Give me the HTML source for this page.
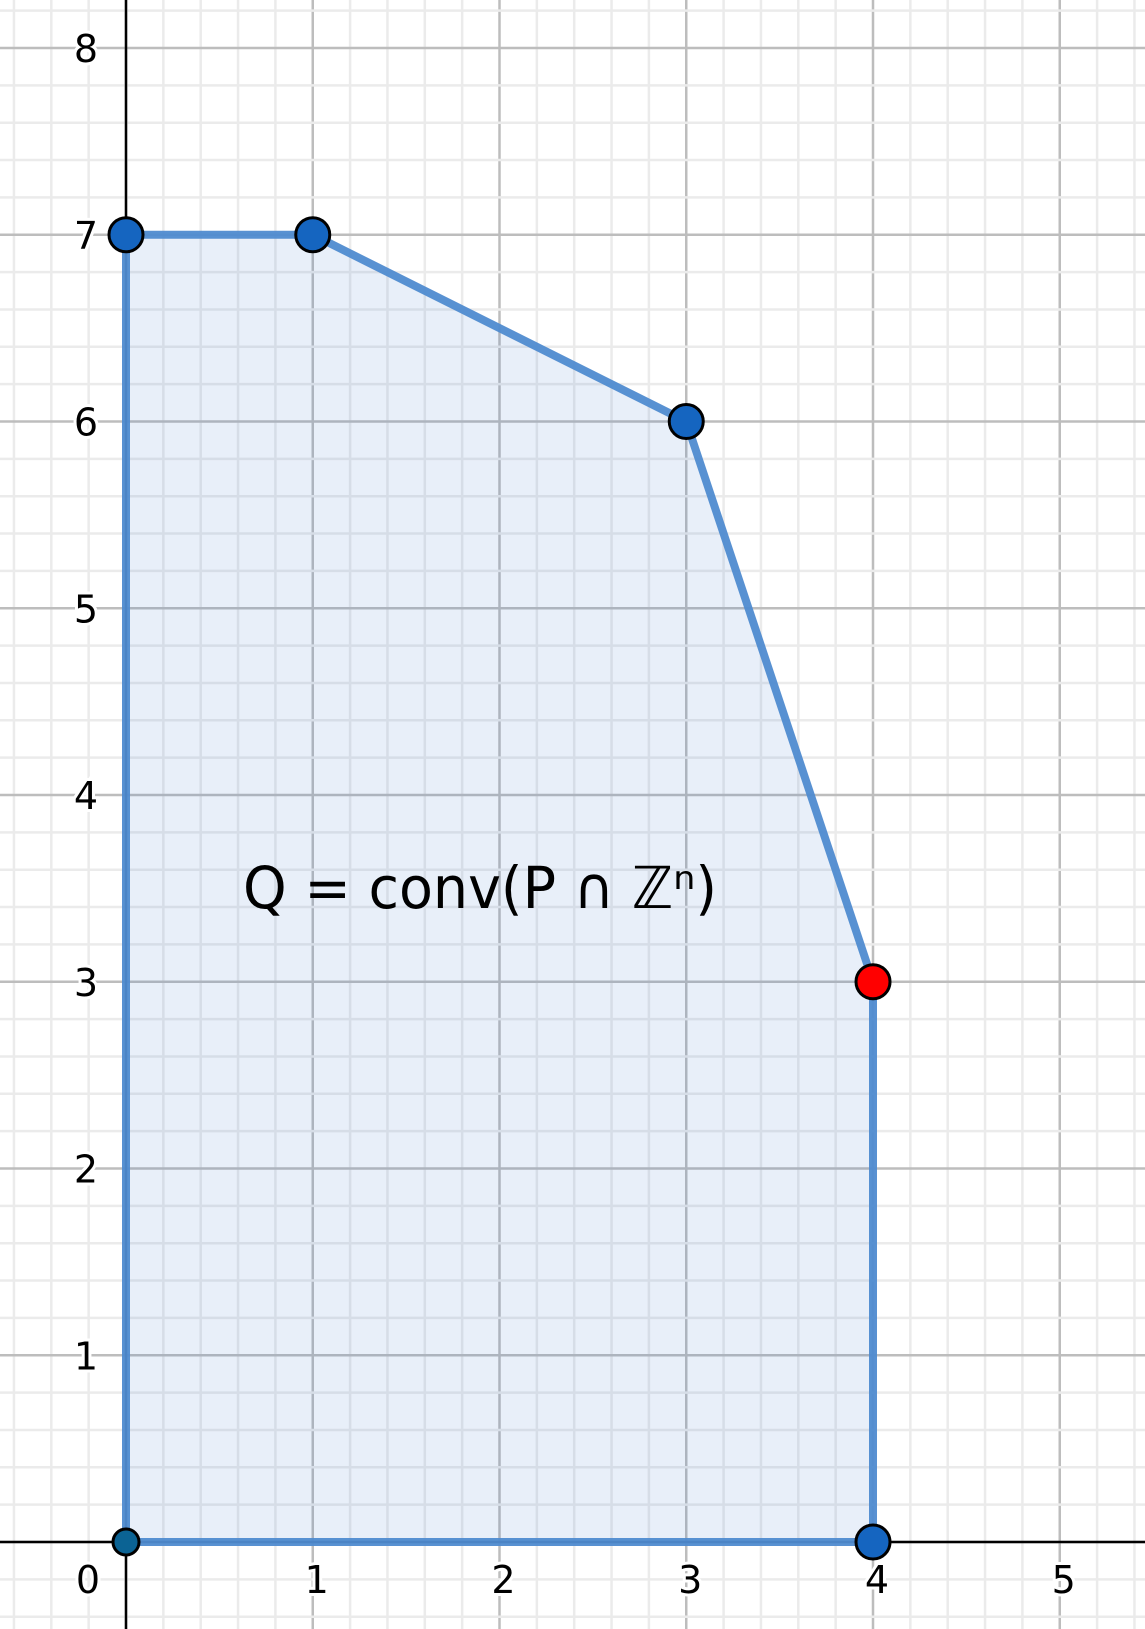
<!DOCTYPE html>
<html><head><meta charset="utf-8"><style>
html,body{margin:0;padding:0;background:#fff;}
svg{display:block;}
</style></head><body>
<svg id="chart" width="1145" height="1629" viewBox="0 0 1145 1629" xmlns="http://www.w3.org/2000/svg">
<g id="grid"></g>
<g id="axes"></g>
<g id="poly"></g>
<g id="labels"></g>
<text x="243" y="908" font-family="DejaVu Sans, sans-serif" font-size="58" textLength="474" lengthAdjust="spacingAndGlyphs" fill="#000">Q = conv(P ∩ ℤⁿ)</text>
<g id="pts"></g>
</svg>
<script>
const xTicks = [0,1,2,3,4,5];
const yTicks = [1,2,3,4,5,6,7,8];
const polyX = [0,1,3,4,4,0];
const polyY = [7,7,6,3,0,0];
const ptX = [0,1,3,4,4,0];
const ptY = [7,7,6,3,0,0];
const ptColor = ['#1565c0','#1565c0','#1565c0','#ff0000','#1565c0','#0b6394'];

const X0=126, Y0=1542, U=186.75;
const sx = v => X0 + v*U;
const sy = v => Y0 - v*U;
const NS='http://www.w3.org/2000/svg';
function mk(tag, parent, attrs){const e=document.createElementNS(NS,tag);for(const k in attrs)e.setAttribute(k,attrs[k]);parent.appendChild(e);return e;}
const grid=document.getElementById('grid');
for(let i=-5;i<=40;i++){
  const v=i/5, x=sx(v);
  if(x<0||x>1145) continue;
  const major=i%5===0;
  const l=mk('line',grid,{x1:x,x2:x,y1:0,y2:1629,stroke:major?'#bdbdbd':'#ebebeb','stroke-width':major?2.5:2.5});
  
  
}
for(let i=-5;i<=45;i++){
  const v=i/5, y=sy(v);
  if(y<0||y>1629) continue;
  const major=i%5===0;
  const l=mk('line',grid,{x1:0,x2:1145,y1:y,y2:y,stroke:major?'#bdbdbd':'#ebebeb','stroke-width':2.5});
  
  
}
const axes=document.getElementById('axes');
const xa=mk('line',axes,{x1:0,x2:1145,y1:Y0,y2:Y0,stroke:'#000','stroke-width':2.5});


const ya=mk('line',axes,{x1:X0,x2:X0,y1:0,y2:1629,stroke:'#000','stroke-width':2.5});



const poly=document.getElementById('poly');
const pts=polyX.map((x,i)=>sx(x)+','+sy(polyY[i])).join(' ');
const pg=mk('polygon',poly,{points:pts,fill:'rgba(45,112,199,0.11)',stroke:'#4f8bd0','stroke-width':8,'stroke-linejoin':'round','stroke-opacity':0.95});



const lab=document.getElementById('labels');
xTicks.forEach(v=>{
  const t=mk('text',lab,{x:v===0?sx(v)-38:sx(v)+4,y:1593,'font-family':'DejaVu Sans, sans-serif','font-size':38,'text-anchor':'middle',fill:'#000',stroke:'#fff','stroke-width':6,'paint-order':'stroke'});
  t.textContent=v;
  
  
});
yTicks.forEach(v=>{
  const t=mk('text',lab,{x:98,y:sy(v)+14,'font-family':'DejaVu Sans, sans-serif','font-size':38,'text-anchor':'end',fill:'#000',stroke:'#fff','stroke-width':6,'paint-order':'stroke'});
  t.textContent=v;
  
  
});
const pg2=document.getElementById('pts');
ptX.forEach((x,i)=>{
  const c=mk('circle',pg2,{cx:sx(x),cy:sy(ptY[i]),r:i===5?13:17,fill:ptColor[i],stroke:'#000','stroke-width':3});
  
  
});
</script>
</body></html>
